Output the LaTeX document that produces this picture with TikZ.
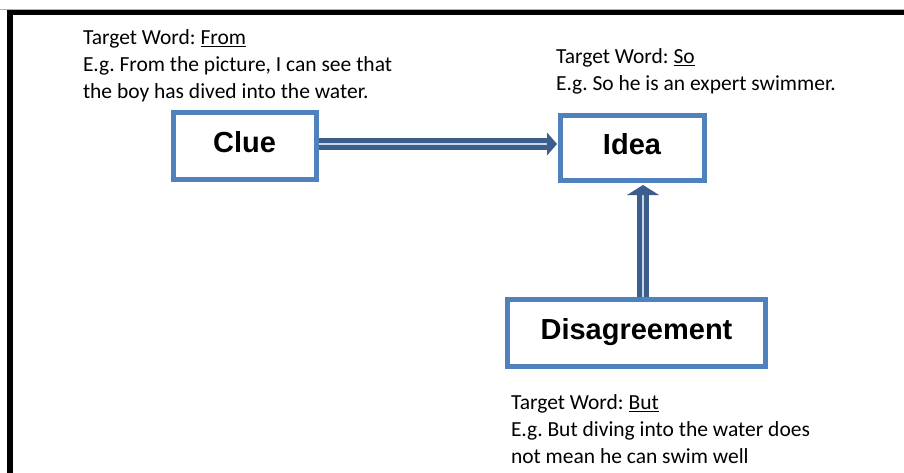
\documentclass[tikz,border=0pt]{standalone}
\usepackage{fontspec}
\setmainfont{Carlito}
\setsansfont{Liberation Sans}
\definecolor{boxblue}{HTML}{4F81BD}
\definecolor{arrdark}{HTML}{3B5E8C}
\definecolor{arrlight}{HTML}{C9D6EA}
\tikzset{
  conceptbox/.style={draw=boxblue, line width=5pt, fill=white, inner sep=0pt, outer sep=0pt,
    text height=21pt, text depth=8pt,
    font=\sffamily\bfseries\fontsize{29}{33}\selectfont},
  shaft/.style={draw=arrdark, line width=4.5pt, double=arrlight, double distance=2.5pt},
  headfill/.style={fill=arrdark},
  notetext/.style={inner sep=0pt, outer sep=0pt, align=left, anchor=north west,
    font=\frenchspacing\fontsize{21.5}{27}\selectfont}
}
\begin{document}
\begin{tikzpicture}[x=1pt,y=-1pt]
\clip (0,0) rectangle (904,472);
\fill[white] (0,0) rectangle (904,472);
\draw[black!30, line width=0.8pt] (0,9) -- (904,9);
\draw[black, line width=5.5pt] (10,12.5) rectangle (1000,600);

\node[conceptbox, minimum width=143pt, minimum height=67pt] (clue) at (244.5,145.5) {Clue};
\node[conceptbox, minimum width=144pt, minimum height=65pt] (idea) at (632,148) {Idea};
\node[conceptbox, minimum width=258pt, minimum height=67pt] (dis) at (636.5,333) {Disagreement};

% horizontal arrow Clue -> Idea
\coordinate (htip) at ([xshift=-3pt]idea.west);
\draw[shaft] ([xshift=2.5pt,yshift=1.5pt]clue.east) -- ([xshift=-10pt,yshift=4pt]htip);
\fill[headfill] ([yshift=4pt]htip) -- ++(-10,-11.5) -- ++(0,23) -- cycle;

% vertical arrow Disagreement -> Idea
\coordinate (vtip) at ([xshift=11pt,yshift=-4.5pt]idea.south);
\draw[shaft] ([xshift=6.5pt,yshift=2.5pt]dis.north) -- ([yshift=-10pt]vtip);
\fill[headfill] (vtip) -- ++(-16,10) -- ++(32,0) -- cycle;

\node[notetext] (n1) at (83,29.6) {Target Word: \underline{From}\\E.g. From the picture, I can see that\\the boy has dived into the water.};
\node[notetext] (n2) at (556,48.6) {Target Word: \underline{So}\\E.g. So he is an expert swimmer.};
\node[notetext] (n3) at (511,394.6) {Target Word: \underline{But}\\E.g. But diving into the water does\\not mean he can swim well};
\end{tikzpicture}
\end{document}
